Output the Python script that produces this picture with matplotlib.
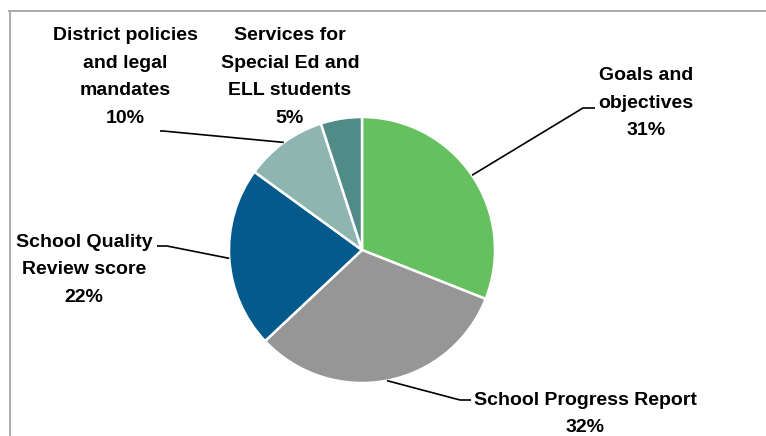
import matplotlib.pyplot as plt
import numpy as np

labels = ["Goals and\nobjectives", "School Progress Report", "School Quality\nReview score",
          "District policies\nand legal\nmandates", "Services for\nSpecial Ed and\nELL students"]
values = [31, 32, 22, 10, 5]
colors = ["#65c15f", "#969696", "#045a8d", "#8fb5b0", "#508b87"]

W, H = 766, 436
fig = plt.figure(figsize=(W / 100, H / 100), dpi=100)
ax = fig.add_axes([0, 0, 1, 1])

cx, cy, r = 362, H - 250, 133
wedges, _ = ax.pie(values, colors=colors, startangle=90, counterclock=False,
                   center=(cx, cy), radius=r, frame=True,
                   wedgeprops=dict(edgecolor="white", linewidth=1.8))
ax.set_xlim(0, W)
ax.set_ylim(0, H)
ax.set_aspect("equal")
ax.axis("off")

# label block centers and leader elbows (image px)
text_pos = [(646, 103), (585, 414), (84, 270), (125, 77), (290, 77)]
elbows = [[(583, 108), (595, 108)], [(460, 400), (471, 400)],
          [(167, 246), (157, 246)], [(163, 131), (160, 131)], None]

for w, lab, v, tp, el in zip(wedges, labels, values, text_pos, elbows):
    ax.text(tp[0], H - tp[1], f"{lab}\n{v}%", ha="center", va="center",
            multialignment="center", fontsize=14, fontweight="bold",
            family="Liberation Sans", color="black", linespacing=1.82)
    if el is not None:
        ang = np.deg2rad((w.theta1 + w.theta2) / 2)
        xs = [cx + r * np.cos(ang)] + [p[0] for p in el]
        ys = [cy + r * np.sin(ang)] + [H - p[1] for p in el]
        ax.plot(xs, ys, color="black", lw=1.2, solid_capstyle="butt")

# chart frame (left and top edges visible)
fig.add_artist(plt.Line2D([9.5 / W, 9.5 / W], [0, 1 - 11 / H], color="#a6a6a6", lw=1.3))
fig.add_artist(plt.Line2D([9 / W, 1], [1 - 11 / H, 1 - 11 / H], color="#a6a6a6", lw=1.3))

fig.savefig("out.png", dpi=100)
